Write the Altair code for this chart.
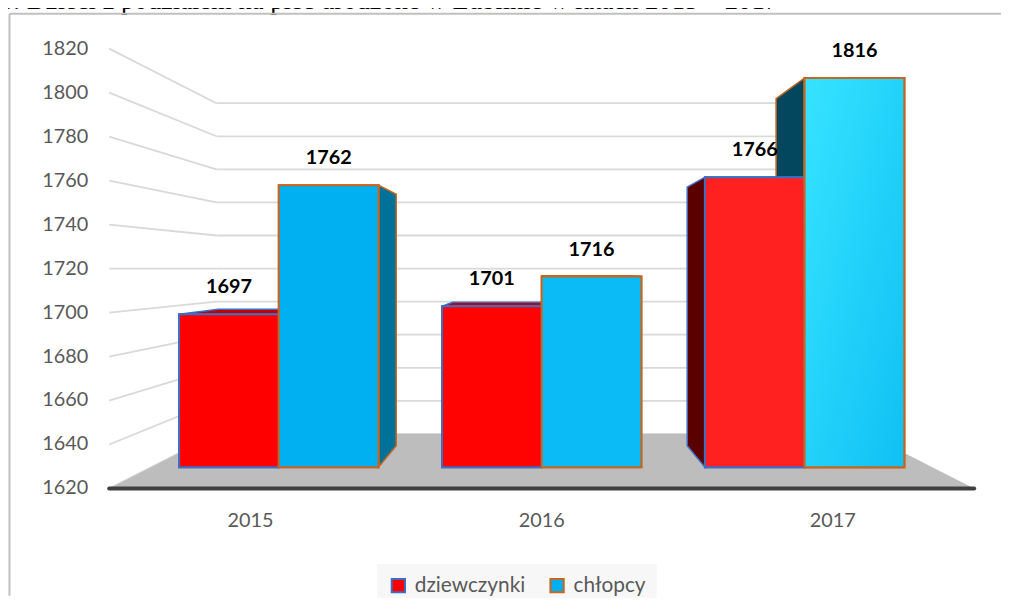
import altair as alt
import pandas as pd

# ---------------- data ----------------
years = ["2015", "2016", "2017"]
genders = ["dziewczynki", "chłopcy"]
girls = [1697, 1701, 1766]
boys = [1762, 1716, 1816]
y_ticks = [1620, 1640, 1660, 1680, 1700, 1720, 1740, 1760, 1780, 1800, 1820]
title_text = "3. Dzieci z podziałem na płeć urodzone w Lublinie w latach 2015 – 2017"

# ---------------- styles ----------------
legend_fill = ["#ff0000", "#00b0f0"]
edge = ["#3d6ec2", "#c8651e"]
front_fill = {
    ("2015", "dziewczynki"): "#ff0000", ("2015", "chłopcy"): "#00b0f0",
    ("2016", "dziewczynki"): "#ff0202", ("2016", "chłopcy"): "#0abbf6",
    ("2017", "dziewczynki"): "#ff2020", ("2017", "chłopcy"): "#22d2fb",
}
top_fill = {"dziewczynki": "#c00000", "chłopcy": "#0090c6"}
side_fill = {
    ("dziewczynki", "left"): "#5a0000", ("dziewczynki", "right"): "#a00000",
    ("chłopcy", "left"): "#03475f", ("chłopcy", "right"): "#00729a",
}

# ---------------- 3-D projection layout ----------------
EYE, BASE = 1720.0, 1620.0          # eye level value, floor value
S_WALL, S_FRONT, S_BACK = 0.752, 0.903, 0.805   # depth scale factors
STEP, BAR_W, FLOOR_HALF = 293.5, 111.3, 436.0
W, H = 1001, 590
K = 2.217                            # px per unit on front plane
CX, BASE_Y = 538.0, 482.0           # view position of vanishing centre / floor front


def pv(v, s):
    return EYE + (v - EYE) * s


xs = alt.Scale(domain=[-CX, W - CX], range=[0, W], nice=False, zero=False)
ys = alt.Scale(domain=[BASE - (H - BASE_Y) / K, BASE + BASE_Y / K], range=[H, 0],
               nice=False, zero=False)

front_rows, side_rows, top_rows, year_rows = [], [], [], []
for i, yr in enumerate(years):
    c = (i - 1) * STEP
    year_rows.append(dict(year=yr, c=c))
    for j, (g, val) in enumerate(zip(genders, [girls[i], boys[i]])):
        X1 = c - BAR_W if j == 0 else c
        X2 = X1 + BAR_W
        front_rows.append(dict(
            year=yr, plec=g, val=val,
            u1=X1 * S_FRONT, u2=X2 * S_FRONT, uc=(X1 + X2) / 2 * S_FRONT,
            vb=pv(BASE, S_FRONT), vt=pv(val, S_FRONT),
            fill=front_fill[(yr, g)], stroke=edge[j]))
        for side, Xe, facing in (("left", X1, X1 > 0), ("right", X2, X2 < 0)):
            if not facing:
                continue
            fid = f"{yr}-{g}-{side}"
            for s in (S_FRONT, S_BACK):
                side_rows.append(dict(face=fid, u=Xe * s, vt=pv(val, s), vb=pv(BASE, s),
                                      fill=side_fill[(g, side)], stroke=edge[j]))
        if val < EYE:
            fid = f"{yr}-{g}-top"
            for s in (S_FRONT, S_BACK):
                top_rows.append(dict(face=fid, v=pv(val, s), ua=X1 * s, ub=X2 * s,
                                     fill=top_fill[g], stroke=edge[j]))

front_df = pd.DataFrame(front_rows)
side_df = pd.DataFrame(side_rows)
top_df = pd.DataFrame(top_rows)
year_df = pd.DataFrame(year_rows)
tick_df = pd.DataFrame(dict(t=y_ticks))

wall_rows = []
for t in y_ticks:
    wall_rows.append(dict(u1=-FLOOR_HALF, u2=-FLOOR_HALF * S_WALL, v1=t, v2=pv(t, S_WALL)))
    wall_rows.append(dict(u1=-FLOOR_HALF * S_WALL, u2=FLOOR_HALF * S_WALL,
                          v1=pv(t, S_WALL), v2=pv(t, S_WALL)))
wall_df = pd.DataFrame(wall_rows)

floor_df = pd.DataFrame([
    dict(v=BASE, ua=-FLOOR_HALF, ub=FLOOR_HALF),
    dict(v=pv(BASE, S_WALL), ua=-FLOOR_HALF * S_WALL, ub=FLOOR_HALF * S_WALL),
])
edge_df = pd.DataFrame([dict(u1=-FLOOR_HALF, u2=FLOOR_HALF, v=BASE)])
title_df = pd.DataFrame([dict(t=title_text)])
one_df = pd.DataFrame([dict(k=0)])

FONT = "Lato"

walls = alt.Chart(wall_df).mark_rule(color="#d9d9d9", strokeWidth=1.8).encode(
    x=alt.X("u1:Q", scale=xs, axis=None), x2="u2:Q",
    y=alt.Y("v1:Q", scale=ys, axis=None), y2="v2:Q")

tick_lbl = alt.Chart(tick_df).mark_text(font=FONT, fontSize=20, color="#595959",
                                        align="right", baseline="middle").encode(
    x=alt.value(81), y=alt.Y("t:Q", scale=ys, axis=None), text=alt.Text("t:Q", format="d"))

floor = alt.Chart(floor_df).mark_area(orient="horizontal", color="#bdbdbd").encode(
    y=alt.Y("v:Q", scale=ys, axis=None),
    x=alt.X("ua:Q", scale=xs, axis=None), x2="ub:Q")

floor_edge = alt.Chart(edge_df).mark_rule(color="#404040", strokeWidth=4, strokeCap="round").encode(
    x=alt.X("u1:Q", scale=xs, axis=None), x2="u2:Q",
    y=alt.Y("v:Q", scale=ys, axis=None))

sides = alt.Chart(side_df).mark_area(orient="vertical", strokeWidth=1.5).encode(
    x=alt.X("u:Q", scale=xs, axis=None),
    y=alt.Y("vt:Q", scale=ys, axis=None), y2="vb:Q",
    detail="face:N",
    fill=alt.Fill("fill:N", scale=None),
    stroke=alt.Stroke("stroke:N", scale=None))

tops = alt.Chart(top_df).mark_area(orient="horizontal", strokeWidth=1.5).encode(
    y=alt.Y("v:Q", scale=ys, axis=None),
    x=alt.X("ua:Q", scale=xs, axis=None), x2="ub:Q",
    detail="face:N",
    fill=alt.Fill("fill:N", scale=None),
    stroke=alt.Stroke("stroke:N", scale=None))

leg = alt.Legend(orient="none", legendX=372, legendY=558, direction="horizontal",
                 title=None, fillColor="#f7f7f7", padding=11, symbolType="square",
                 symbolSize=180, symbolStrokeWidth=2, labelFont=FONT, labelFontSize=21,
                 labelColor="#595959", columnPadding=20, labelOffset=6)

front = alt.Chart(front_df).mark_rect(strokeWidth=2).encode(
    x=alt.X("u1:Q", scale=xs, axis=None), x2="u2:Q",
    y=alt.Y("vb:Q", scale=ys, axis=None), y2="vt:Q",
    fill=alt.Fill("plec:N", scale=alt.Scale(domain=genders, range=legend_fill), legend=leg),
    stroke=alt.Stroke("plec:N", scale=alt.Scale(domain=genders, range=edge), legend=leg))

front_over = alt.Chart(front_df).mark_rect(strokeWidth=2).encode(
    x=alt.X("u1:Q", scale=xs, axis=None), x2="u2:Q",
    y=alt.Y("vb:Q", scale=ys, axis=None), y2="vt:Q",
    fill=alt.Fill("fill:N", scale=None),
    stroke=alt.Stroke("stroke:N", scale=None))

grad = alt.Chart(front_df).transform_filter(
    (alt.datum.year == "2017") & (alt.datum.plec == "chłopcy")
).mark_rect(
    fill=alt.Gradient(gradient="linear", x1=0, y1=0, x2=1, y2=1, stops=[
        alt.GradientStop(offset=0, color="#36e4ff"),
        alt.GradientStop(offset=1, color="#10c0f4")]),
    stroke=edge[1], strokeWidth=2
).encode(
    x=alt.X("u1:Q", scale=xs, axis=None), x2="u2:Q",
    y=alt.Y("vb:Q", scale=ys, axis=None), y2="vt:Q")

vals = alt.Chart(front_df).mark_text(font=FONT, fontSize=20, fontWeight="bold", color="#000000",
                                     baseline="bottom", dy=-17).encode(
    x=alt.X("uc:Q", scale=xs, axis=None),
    y=alt.Y("vt:Q", scale=ys, axis=None),
    text=alt.Text("val:Q", format="d"))

year_lbl = alt.Chart(year_df).mark_text(font=FONT, fontSize=20, color="#595959",
                                        baseline="middle").encode(
    x=alt.X("c:Q", scale=xs, axis=None), y=alt.value(515), text="year:N")

title_l = alt.Chart(title_df).mark_text(font="Liberation Serif", fontSize=26.8, color="#000000",
                                        align="left", baseline="alphabetic").encode(
    x=alt.value(-8), y=alt.value(-1), text="t:N")

border_top = alt.Chart(one_df).mark_rule(color="#c0c0c0", strokeWidth=2).encode(
    x=alt.value(1.5), x2=alt.value(W), y=alt.value(3.5))
border_left = alt.Chart(one_df).mark_rule(color="#c0c0c0", strokeWidth=2).encode(
    x=alt.value(1.5), y=alt.value(3.5), y2=alt.value(H))

chart = alt.layer(
    walls, tick_lbl, floor, floor_edge, sides, tops, front, front_over, grad, vals, year_lbl,
    title_l, border_top, border_left
).properties(
    width=W, height=H,
    autosize=alt.AutoSizeParams(type="none"),
    padding={"left": 0, "top": 0, "right": 0, "bottom": 0},
).configure_view(stroke=None)

chart.save("out.html", embed_options={"renderer": "svg", "actions": False})
